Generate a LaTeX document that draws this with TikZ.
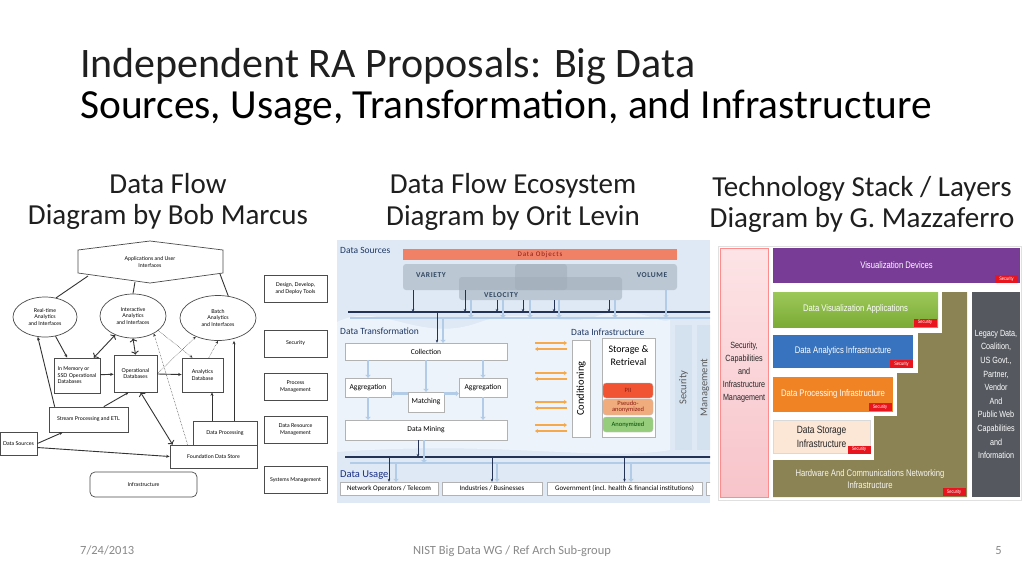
\documentclass[tikz,border=0pt]{standalone}
\usepackage{fontspec}
\setmainfont{Carlito}
\newfontfamily\gill{Lato}
\newfontfamily\narrow[FakeStretch=0.8]{Liberation Sans}
\usetikzlibrary{arrows.meta,shapes.geometric}

\definecolor{footgray}{RGB}{137,137,137}
\definecolor{mbg}{RGB}{222,233,245}
\definecolor{mwave}{RGB}{236,243,250}
\definecolor{mnavy}{RGB}{31,56,100}
\definecolor{mbus}{RGB}{35,50,85}
\definecolor{mlight}{RGB}{178,204,232}
\definecolor{mgray}{RGB}{160,172,184}
\definecolor{mvtext}{RGB}{50,72,98}
\definecolor{objred}{RGB}{240,128,102}
\definecolor{objtext}{RGB}{140,30,20}
\definecolor{oarrow}{RGB}{247,168,72}
\definecolor{piired}{RGB}{240,84,50}
\definecolor{pseudo}{RGB}{240,172,125}
\definecolor{anongreen}{RGB}{150,205,125}
\definecolor{colgray}{RGB}{212,226,240}
\definecolor{vispurple}{RGB}{120,60,150}
\definecolor{appgreen}{RGB}{138,190,60}
\definecolor{anablue}{RGB}{55,115,190}
\definecolor{procorange}{RGB}{240,132,36}
\definecolor{storpeach}{RGB}{252,230,214}
\definecolor{hwolive}{RGB}{139,131,84}
\definecolor{legacygray}{RGB}{85,89,95}
\definecolor{secred}{RGB}{232,20,30}
\definecolor{pinktop}{RGB}{253,228,230}
\definecolor{pinkbot}{RGB}{247,196,202}

\begin{document}
\begin{tikzpicture}[x=1pt,y=-1pt]
    \tikzstyle{head}=[inner sep=0,anchor=base,font=\fontsize{29}{34}\selectfont,text=black!88]
    \tikzstyle{foot}=[inner sep=0,anchor=base,font=\fontsize{12.5}{14}\selectfont,text=footgray]
    \tikzstyle{mbox}=[draw=black!70,line width=0.7pt,fill=white,inner sep=1pt,align=center,font=\gill\fontsize{5.3}{6.4}\selectfont]
    \tikzstyle{mell}=[mbox,ellipse]
    \tikzstyle{mline}=[draw=black!80,line width=0.9pt]
    \tikzstyle{marr}=[mline,-{Stealth[length=3.5pt,width=3pt]}]
    \tikzstyle{mdot}=[draw=black!80,line width=0.5pt,densely dotted,-{Stealth[length=3pt,width=2.6pt]}]
    \tikzstyle{tbox}=[draw=black!30,fill=white,inner sep=1pt,font=\fontsize{7.5}{9}\selectfont]
    \tikzstyle{mlabel}=[inner sep=0,anchor=base west,text=mnavy,font=\fontsize{9.5}{11}\selectfont]
    \tikzstyle{vbox}=[fill=mgray,fill opacity=0.55,rounded corners=3pt]
    \tikzstyle{vtext}=[inner sep=0,text=mvtext,font=\bfseries\addfontfeature{LetterSpace=8}\fontsize{7.5}{9}\selectfont]
    \tikzstyle{darr}=[draw=mbus,line width=0.7pt,-{Stealth[length=3pt,width=2.5pt]}]
    \tikzstyle{larr}=[draw=mlight,line width=2.2pt,-{Triangle[length=3pt,width=5.5pt]}]
    \tikzstyle{oarr}=[draw=oarrow,line width=1.6pt]
    \tikzstyle{disk}=[draw=black!25,rounded corners=3pt,minimum width=50,inner sep=0,align=center,font=\fontsize{6.5}{6}\selectfont]
    \tikzstyle{sbox}=[fill=colgray,inner sep=0,text=black!65,font=\fontsize{10.5}{12}\selectfont]
    \tikzstyle{layer}=[inner sep=0,text=white,align=center,font=\narrow\fontsize{9.6}{12}\selectfont]
    \tikzstyle{sectag}=[fill=secred,text=white,inner sep=0,minimum width=23,minimum height=8,font=\narrow\fontsize{5}{5}\selectfont]

    \useasboundingbox (0,0) rectangle (1024,576);
    \fill[white] (0,0) rectangle (1024,576);

    % title and headings
    \node[inner sep=0,anchor=base west,font=\fontsize{42}{48}\selectfont,text=black!88] (title) at (80,77) {Independent RA Proposals: Big Data};
    \node[inner sep=0,anchor=base west,font=\fontsize{41.4}{48}\selectfont,text=black] (subtitle) at (80,118) {Sources, Usage, Transformation, and Infrastructure};
    \node[head] (h1a) at (168,193) {Data Flow};
    \node[head] (h1b) at (168,224) {Diagram by Bob Marcus};
    \node[head] (h2a) at (513,193) {Data Flow Ecosystem};
    \node[head] (h2b) at (513,225) {Diagram by Orit Levin};
    \node[head] (h3a) at (862,196) {Technology Stack / Layers};
    \node[head] (h3b) at (862,227) {Diagram by G. Mazzaferro};

    \node[foot,anchor=base west] (date) at (80,554) {7/24/2013};
    \node[foot] (wg) at (512,554) {NIST Big Data WG / Ref Arch Sub-group};
    \node[foot,anchor=base east] (page) at (1002,554) {5};

    % ---- data flow diagram
    \draw[draw=black!70,line width=0.7pt,fill=white] (78,250) -- (150,241) -- (223,250) -- (223,273) -- (150,283) -- (78,273) -- cycle;
    \node[inner sep=0,align=center,font=\gill\fontsize{5.3}{6.4}\selectfont] (apps) at (150,262) {Applications and User\\Interfaces};
    \coordinate (apps-l) at (88,276);
    \coordinate (apps-b) at (135,282);
    \coordinate (apps-r) at (220,274);

    \node[mell,minimum width=64,minimum height=40,inner sep=0] (rt) at (45,317) {Real-time\\Analytics\\and Interfaces};
    \node[mell,minimum width=66,minimum height=44,inner sep=0] (ia) at (133,316) {Interactive\\Analytics\\and Interfaces};
    \node[mell,minimum width=76,minimum height=45,inner sep=0] (batch) at (218,318) {Batch\\Analytics\\and Interfaces};

    \node[mbox,align=left,minimum width=46,minimum height=35] (inmem) at (77,375.5) {In Memory or\\SSD Operational\\Databases};
    \node[mbox,minimum width=43,minimum height=37] (opdb) at (135.5,373.5) {Operational\\Databases};
    \node[mbox,minimum width=41,minimum height=34] (andb) at (202.5,375) {Analytics\\Database};
    \node[mbox,minimum width=79,minimum height=25] (stream) at (88.5,419.5) {Stream Processing and ETL};
    \node[mbox,minimum width=37,minimum height=23] (dsrc) at (18.5,443.5) {Data Sources};
    \node[mbox,minimum width=64,minimum height=24] (dproc) at (225,433) {Data Processing};
    \node[mbox,minimum width=87,minimum height=23] (fds) at (213.5,456.5) {Foundation Data Store};
    \node[mbox,rounded corners=5pt,minimum width=107,minimum height=25] (infra) at (143.5,484.5) {Infrastructure};

    \foreach \name/\y/\txt in {tools/288.5/{Design, Develop,\\and Deploy Tools}, secu/343.5/Security,
                               procm/386.5/{Process\\Management}, drm/429.5/{Data Resource\\Management},
                               sysm/480/{Systems Management}}
        \node[mbox,minimum width=63,minimum height=27] (\name) at (295.5,\y) {\txt};

    \coordinate (dp1) at (212,421);
    \coordinate (dp2) at (234,421);

    \draw[mline] (apps-l) -- (rt.60);
    \draw[mline] (apps-b) -- (ia.north);
    \draw[mline] (apps-r) -- (batch.65);
    \draw[marr] (rt) -- (inmem);
    \draw[marr,<->] (inmem) -- (ia);
    \draw[marr] ([xshift=6pt]stream.north west) -- (rt.250);
    \draw[marr,<->] (opdb.north) -- (ia.south);
    \draw[marr] (inmem) -- (opdb);
    \draw[marr] (opdb) -- (andb);
    \draw[marr] (stream.40) -- (opdb.250);
    \draw[marr] (dsrc.east) -- ([xshift=14pt]stream.south west);
    \draw[marr] ([yshift=-4pt]dsrc.east) -- (fds.west);
    \draw[marr,<->] (opdb.285) -- ([xshift=3pt]fds.north west);
    \draw[marr] (dp1) -- (dp1 |- andb.south);
    \draw[marr] (dp2) -- (dp2 |- batch.south);
    \draw[mdot] (opdb.east) -- (batch.220);
    \draw[mdot] (ia.-30) -- (andb.120);
    \draw[mdot] (andb.70) -- (batch.south);
    \draw[mdot] ([xshift=18pt]fds.north west) -- (ia.-40);

    % ---- data flow ecosystem
    \begin{scope}
    \clip (337,240) rectangle (710,503);
    \fill[mbg] (337,240) rectangle (710,503);
    \fill[mwave] (337,322) .. controls (380,300) and (420,345) .. (480,322) .. controls (530,305) and (560,330) .. (600,315)
        .. controls (640,305) and (660,325) .. (670,320) -- (670,450) .. controls (600,462) and (500,440) .. (337,452) -- cycle;

    \node[mlabel] (dsl) at (340,253) {Data Sources};
    \node[fill=objred,inner sep=0,minimum width=274,minimum height=11,text=objtext,
          font=\addfontfeature{LetterSpace=12}\fontsize{7}{8}\selectfont] (dobj) at (540,254.5) {Data Objects};

    \fill[vbox] (403,264) rectangle (567,290);
    \fill[vbox] (515,264) rectangle (677,290);
    \fill[vbox] (459,277) rectangle (622,300);
    \node[inner sep=0,minimum width=164,minimum height=26] (var) at (485,277) {};
    \node[inner sep=0,minimum width=162,minimum height=26] (vol) at (596,277) {};
    \node[inner sep=0,minimum width=163,minimum height=23] (vel) at (540.5,288.5) {};
    \node[vtext] (vart) at (431,275) {VARIETY};
    \node[vtext] (velt) at (501,295) {VELOCITY};
    \node[vtext] (volt) at (652,275) {VOLUME};

    \coordinate (sbusL) at (348,312);
    \coordinate (sbusR) at (712,312);
    \coordinate (lbusL) at (350,318);
    \coordinate (lbusR) at (712,318);
    \draw[draw=mbus,line width=1.2pt] (sbusL) -- (sbusR);
    \draw[draw=mlight,line width=2pt] (lbusL) -- (lbusR);

    \foreach \x in {471,503,530,559,615}
        \draw[larr] (vel.south -| \x,0) -- (\x,0 |- lbusL);
    \draw[larr] (vol.south -| 666,0) -- (666,0 |- lbusL);
    \foreach \x in {413,465}
        \draw[darr] (var.south -| \x,0) -- (\x,0 |- sbusL);
    \foreach \x in {497,523,554,609}
        \draw[darr] (vel.south -| \x,0) -- (\x,0 |- sbusL);

    \node[mlabel] (dtl) at (340,334) {Data Transformation};
    \node[tbox,minimum width=162,minimum height=17] (coll) at (426,351.5) {Collection};
    \node[tbox,minimum width=46,minimum height=19] (agg1) at (368,387.5) {Aggregation};
    \node[tbox,minimum width=48,minimum height=19] (agg2) at (483,387.5) {Aggregation};
    \node[tbox,minimum width=36,minimum height=20] (match) at (426,402) {Matching};
    \node[tbox,minimum width=162,minimum height=20] (mining) at (426,430) {Data Mining};

    \draw[larr] (443,0 |- lbusL) -- (443,0 |- coll.north);
    \draw[darr] (437,0 |- sbusL) -- (437,0 |- coll.north);
    \draw[larr] (coll.south -| agg1.north) -- (agg1.north);
    \draw[larr] (coll.south -| match.north) -- (match.north);
    \draw[larr] (coll.south -| agg2.north) -- (agg2.north);
    \draw[larr] (match.155) -- (match.155 -| agg1.east);
    \draw[larr] (match.25) -- (match.25 -| agg2.west);
    \draw[larr] (agg1.south) -- (agg1.south |- mining.north);
    \draw[larr] (agg2.south) -- (agg2.south |- mining.north);

    \coordinate (ubusL) at (345,457);
    \coordinate (ubusR) at (712,457);
    \coordinate (lubusL) at (350,463);
    \coordinate (lubusR) at (712,463);
    \draw[draw=mbus,line width=1.2pt] (ubusL) -- (ubusR);
    \draw[draw=mlight,line width=2pt] (lubusL) -- (lubusR);
    \draw[larr] (424,0 |- mining.south) -- (424,0 |- lubusL);
    \draw[darr] (418,0 |- mining.south) -- (418,0 |- ubusL);

    \node[mlabel,text=mnavy!80!blue,font=\fontsize{10.5}{12}\selectfont] (dul) at (340,477) {Data Usage};
    \node[tbox,font=\fontsize{7}{8}\selectfont,minimum width=98,minimum height=13] (net) at (389,488.5) {Network Operators / Telecom};
    \node[tbox,font=\fontsize{7}{8}\selectfont,minimum width=100,minimum height=13] (ind) at (492,488.5) {Industries / Businesses};
    \node[tbox,font=\fontsize{7}{8}\selectfont,minimum width=155,minimum height=13] (gov) at (624.5,488.5) {Government (incl. health \& financial institutions)};
    \node[tbox,minimum width=16,minimum height=13] (more) at (714,488.5) {};
    \foreach \x in {396,497,631}
        \draw[larr] (\x,0 |- lubusL) -- (\x,0 |- net.north);
    \foreach \b in {net,ind,gov}
        \draw[darr] (\b.north |- ubusL) -- (\b.north);

    \node[mlabel] (dil) at (571,335) {Data Infrastructure};
    \node[tbox,rotate=90,minimum width=97,minimum height=18,font=\fontsize{10.5}{12}\selectfont] (cond) at (581,388.5) {Conditioning};
    \node[tbox,minimum width=53,minimum height=99] (stor) at (628.5,387.5) {};
    \node[inner sep=0,align=center,font=\fontsize{10}{13}\selectfont] (stortxt) at (628.5,355.5) {Storage \&\\Retrieval};
    \node[disk,fill=piired,minimum height=15,text=objtext] (pii) at (628,390.5) {PII};
    \node[disk,fill=pseudo,minimum height=16,text=objtext] (pseud) at (628,407) {Pseudo-\\anonymized};
    \node[disk,fill=anongreen,minimum height=15,text=black!70!green] (anon) at (628,424.5) {Anonymized};

    \coordinate (oL) at (535,0);
    \coordinate (oR) at (567,0);
    \foreach \y in {343,373,402,425} {
        \draw[oarr,-{Stealth[length=3pt,width=4pt]}] (oL |- 0,\y) -- (oR |- 0,\y);
        \draw[oarr,{Stealth[length=3pt,width=4pt]}-] (oL |- 0,\y+6) -- (oR |- 0,\y+6);
    }

    \node[sbox,rotate=90,minimum width=125,minimum height=17] (msec) at (683.5,387.5) {Security};
    \node[sbox,rotate=90,minimum width=125,minimum height=16] (mgmt) at (705,387.5) {Management};
    \end{scope}

    % ---- technology stack
    \draw[draw=black!12,line width=0.6pt] (718,246) rectangle (1021,500);
    \fill[hwolive] (942,292) -- (967,292) -- (967,497) -- (773,497) -- (773,460) -- (874,460) -- (874,416)
        -- (897,416) -- (897,373) -- (918,373) -- (918,333) -- (942,333) -- cycle;
    \node[layer,top color=pinktop,bottom color=pinkbot,draw=red!45,text=black!85,minimum width=48,minimum height=249,
          font=\narrow\fontsize{9}{13}\selectfont] (scim) at (744,372.5) {Security,\\Capabilities\\and\\Infrastructure\\Management};
    \node[layer,fill=vispurple,minimum width=247,minimum height=35] (vis) at (896.5,265.5) {Visualization Devices};
    \node[layer,top color=appgreen!85!white,bottom color=appgreen!90!black,minimum width=165,minimum height=35] (app) at (855.5,309.5) {Data Visualization Applications};
    \node[layer,fill=anablue,minimum width=140,minimum height=33] (ana) at (843,351.5) {Data Analytics Infrastructure};
    \node[layer,fill=procorange,minimum width=120,minimum height=35] (proc) at (833,394.5) {Data Processing Infrastructure};
    \node[layer,fill=storpeach,draw=black!15,text=black!85,minimum width=97,minimum height=33,
          font=\narrow\fontsize{10.5}{14}\selectfont] (stora) at (821.5,436.5) {Data Storage\\Infrastructure};
    \node[layer,text=white!92!hwolive] (hw) at (870,479) {Hardware And Communications Networking\\Infrastructure};
    \node[layer,fill=legacygray,minimum width=48,minimum height=205,font=\narrow\fontsize{9}{13.6}\selectfont] (legacy) at (996,394.5)
        {Legacy Data,\\Coalition,\\US Govt.,\\Partner,\\Vendor\\And\\Public Web\\Capabilities\\and\\Information};

    \foreach \n/\x/\y in {vis/1006.5/279, app/925/322.5, ana/901.5/364, proc/880/407, stor/859/449.5, hw/954/492}
        \node[sectag] (sec-\n) at (\x,\y) {Security};
\end{tikzpicture}
\end{document}
